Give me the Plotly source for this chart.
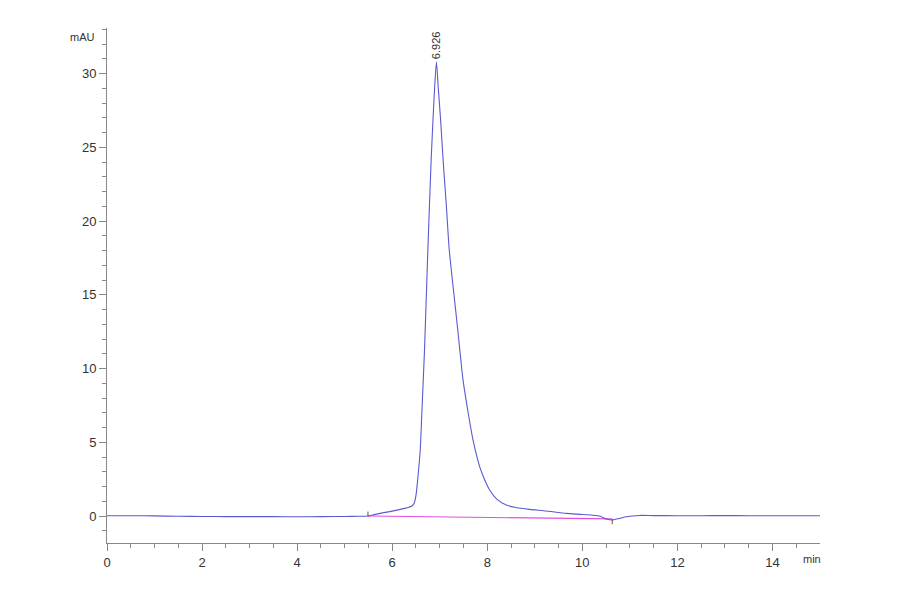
import plotly.graph_objects as go

# Retention time (min) and absorbance (mAU)
time_min = [0.0, 0.5, 1.0, 1.5, 2.0, 2.5, 3.0, 3.5, 4.0, 4.5, 5.0, 5.3, 5.49,
            5.6, 5.74, 5.95, 6.1, 6.26, 6.35, 6.42, 6.46, 6.5, 6.54, 6.59, 6.63,
            6.68, 6.75, 6.82, 6.88, 6.93, 6.97, 7.02, 7.07, 7.14, 7.2, 7.28,
            7.38, 7.49, 7.60, 7.70, 7.84, 7.94, 8.05, 8.2, 8.4, 8.6, 8.89,
            9.24, 9.66, 10.0, 10.36, 10.5, 10.64, 10.8, 10.92, 11.2, 11.5,
            12.0, 12.5, 13.0, 13.5, 14.0, 14.5, 15.0]
absorb_mau = [0.02, 0.02, 0.01, -0.02, -0.03, -0.04, -0.04, -0.04, -0.05, -0.04,
              -0.03, -0.02, 0.0, 0.08, 0.18, 0.3, 0.4, 0.52, 0.6, 0.7, 0.85, 1.4,
              2.6, 4.48, 7.5, 11.27, 18.06, 24.2, 28.3, 30.8, 29.0, 26.8, 24.2,
              21.0, 18.06, 15.6, 12.6, 9.23, 6.97, 5.16, 3.35, 2.5, 1.77, 1.15,
              0.75, 0.58, 0.45, 0.34, 0.18, 0.1, 0.0, -0.2, -0.27, -0.15, -0.05,
              0.04, 0.03, 0.02, 0.02, 0.03, 0.02, 0.02, 0.02, 0.02]

# Integration baseline (start / end)
base_time = [5.49, 10.63]
base_mau = [0.0, -0.2]

peak_rt = 6.926
peak_height = 30.8
peak_label = "6.926"

x_range = [0, 15]
y_range = [-1.83, 33.1]

fig = go.Figure()
fig.add_trace(go.Scatter(x=base_time, y=base_mau, mode="lines",
                         line=dict(color="#e050e0", width=1.2),
                         hoverinfo="skip", showlegend=False))
fig.add_trace(go.Scatter(x=time_min, y=absorb_mau, mode="lines",
                         line=dict(color="#5a5ad2", width=1.1, shape="spline", smoothing=0.6),
                         showlegend=False))

# baseline markers
fig.add_trace(go.Scatter(x=[base_time[0], base_time[0]], y=[0.0, 0.3], mode="lines",
                         line=dict(color="#555555", width=1), showlegend=False))
fig.add_trace(go.Scatter(x=[base_time[1], base_time[1]], y=[-0.2, -0.55], mode="lines",
                         line=dict(color="#555555", width=1), showlegend=False))

font_family = "Liberation Sans Narrow, Liberation Sans, Arial, sans-serif"

fig.add_annotation(x=peak_rt, y=peak_height, text=peak_label, textangle=-90,
                   showarrow=False, xanchor="center", yanchor="bottom",
                   yshift=1, font=dict(size=11, color="#333333", family=font_family))
fig.add_annotation(x=0, y=1, xref="paper", yref="paper", text="mAU",
                   showarrow=False, xanchor="right", yanchor="middle",
                   xshift=-10, yshift=-9,
                   font=dict(size=11, color="#333333", family=font_family))
fig.add_annotation(x=1, y=0, xref="paper", yref="paper", text="min",
                   showarrow=False, xanchor="center", yanchor="top",
                   xshift=-8, yshift=-8,
                   font=dict(size=11, color="#333333", family=font_family))

axis_common = dict(showgrid=False, zeroline=False, showline=True,
                   linecolor="#888888", linewidth=1, ticks="outside",
                   tickcolor="#888888", tickwidth=1,
                   tickfont=dict(size=13, color="#333333", family=font_family))

fig.update_xaxes(range=x_range, tickmode="array", tickvals=[0, 2, 4, 6, 8, 10, 12, 14],
                 ticklen=7,
                 minor=dict(tickmode="array",
                            tickvals=[0.5, 1, 1.5, 2.5, 3, 3.5, 4.5, 5, 5.5, 6.5, 7, 7.5,
                                      8.5, 9, 9.5, 10.5, 11, 11.5, 12.5, 13, 13.5, 14.5],
                            ticks="outside", ticklen=4, tickcolor="#888888", showgrid=False),
                 **axis_common)
fig.update_yaxes(range=y_range, tickmode="array", tickvals=[0, 5, 10, 15, 20, 25, 30],
                 ticklen=7,
                 minor=dict(tickmode="array",
                            tickvals=[-1, 1, 2, 3, 4, 6, 7, 8, 9, 11, 12, 13, 14, 16, 17,
                                      18, 19, 21, 22, 23, 24, 26, 27, 28, 29, 31, 32, 33],
                            ticks="outside", ticklen=4, tickcolor="#888888", showgrid=False),
                 **axis_common)

fig.update_layout(width=900, height=594, plot_bgcolor="white", paper_bgcolor="white",
                  margin=dict(l=99, r=88, t=20, b=59), showlegend=False)

fig.write_html("out.html")
